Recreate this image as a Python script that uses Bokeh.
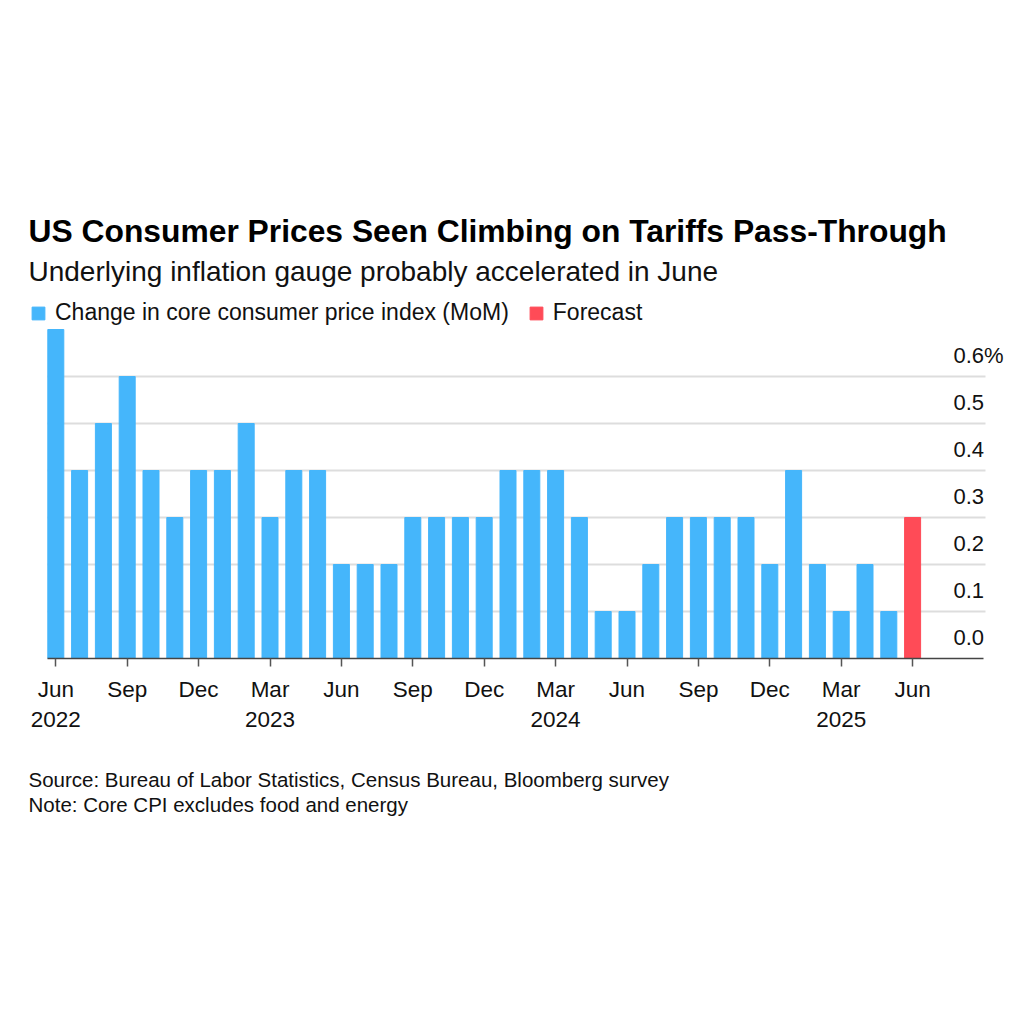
from bokeh.plotting import figure
from bokeh.models import (Range1d, FixedTicker, ColumnDataSource, Legend, LegendItem, Title)
from bokeh.core.properties import value
from bokeh.embed import file_html
from bokeh.resources import INLINE

# ---------------- data ----------------
months = ["Jun 2022", "Jul 2022", "Aug 2022", "Sep 2022", "Oct 2022", "Nov 2022", "Dec 2022",
          "Jan 2023", "Feb 2023", "Mar 2023", "Apr 2023", "May 2023", "Jun 2023", "Jul 2023",
          "Aug 2023", "Sep 2023", "Oct 2023", "Nov 2023", "Dec 2023", "Jan 2024", "Feb 2024",
          "Mar 2024", "Apr 2024", "May 2024", "Jun 2024", "Jul 2024", "Aug 2024", "Sep 2024",
          "Oct 2024", "Nov 2024", "Dec 2024", "Jan 2025", "Feb 2025", "Mar 2025", "Apr 2025",
          "May 2025"]
core_cpi_mom = [0.7, 0.4, 0.5, 0.6, 0.4, 0.3, 0.4,
                0.4, 0.5, 0.3, 0.4, 0.4, 0.2, 0.2,
                0.2, 0.3, 0.3, 0.3, 0.3, 0.4, 0.4,
                0.4, 0.3, 0.1, 0.1, 0.2, 0.3, 0.3,
                0.3, 0.3, 0.2, 0.4, 0.2, 0.1, 0.2,
                0.1]
forecast_month = ["Jun 2025"]
forecast_value = [0.3]

x_tick_labels = ["Jun\n2022", "Sep", "Dec", "Mar\n2023", "Jun", "Sep", "Dec",
                 "Mar\n2024", "Jun", "Sep", "Dec", "Mar\n2025", "Jun"]
y_ticks = [0.0, 0.1, 0.2, 0.3, 0.4, 0.5, 0.6]
y_tick_labels = ["0.0", "0.1", "0.2", "0.3", "0.4", "0.5", "0.6%"]

title = "US Consumer Prices Seen Climbing on Tariffs Pass-Through"
subtitle = "Underlying inflation gauge probably accelerated in June"
legend_labels = ["Change in core consumer price index (MoM)", "Forecast"]
footer = ["Source: Bureau of Labor Statistics, Census Bureau, Bloomberg survey",
          "Note: Core CPI excludes food and energy"]

BLUE = "#45B6FB"
RED = "#FF4B57"
FONT = "Liberation Sans"
INK = "#111111"

# ---------------- layout (pixel geometry of the page) ----------------
W, H = 1024, 1024
FB = 658                 # baseline of the bars (frame bottom)
PITCH = 23.8             # px between bar centres
FIRST = 55.3             # px centre of first bar
PX_PER_UNIT = 470.0      # px per 1.0 percentage point
X0 = -FIRST / PITCH
X1 = X0 + W / PITCH
Y0, Y1 = 0.0, FB / PX_PER_UNIT


def dx(px):
    return X0 + px / PITCH


def dy(py):
    return (FB - py) / PX_PER_UNIT


p = figure(width=W, height=H, output_backend="svg", toolbar_location=None,
           x_range=Range1d(X0, X1), y_range=Range1d(Y0, Y1),
           min_border_left=0, min_border_right=0, min_border_top=0,
           min_border_bottom=H - FB)
p.outline_line_color = None
p.background_fill_color = "white"
p.border_fill_color = "white"
p.yaxis.visible = False
p.xgrid.visible = False
p.ygrid.visible = False

# horizontal gridlines limited to the plotting area
grid_y = y_ticks[1:]
p.segment(x0=[dx(47)] * len(grid_y), x1=[dx(985)] * len(grid_y), y0=grid_y, y1=grid_y,
          line_color="#dddddd", line_width=2)

xi = list(range(len(months)))
src = ColumnDataSource(dict(x=xi, top=core_cpi_mom, m=months))
fsrc = ColumnDataSource(dict(x=[len(months) + i for i in range(len(forecast_month))],
                             top=forecast_value, m=forecast_month))
BAR_W = 16 / PITCH
r1 = p.vbar(x="x", top="top", width=BAR_W, bottom=0, source=src, color=BLUE)
r2 = p.vbar(x="x", top="top", width=BAR_W, bottom=0, source=fsrc, color=RED)

# x axis
n_all = len(months) + len(forecast_month)
tick_pos = list(range(0, n_all, 3))
ax = p.xaxis[0]
ax.ticker = FixedTicker(ticks=tick_pos)
ax.bounds = (dx(47), dx(983))
ax.major_label_overrides = {t: lab for t, lab in zip(tick_pos, x_tick_labels)}
ax.axis_line_color = "#444444"
ax.axis_line_width = 1.3
ax.major_tick_line_color = "#555555"
ax.major_tick_line_width = 1.5
ax.major_tick_in = 0
ax.major_tick_out = 8
ax.minor_tick_line_color = None
ax.major_label_text_font = FONT
ax.major_label_text_font_size = "22.5px"
ax.major_label_text_color = INK
ax.major_label_standoff = 10
ax.major_label_text_line_height = 1.2

# value labels, right side, sitting above their gridlines
lift = 21 / PX_PER_UNIT
p.text(x=[dx(953)] * len(y_ticks), y=[v + lift for v in y_ticks], text=y_tick_labels,
       text_font=value(FONT), text_font_size="22px", text_color=INK,
       text_align="left", text_baseline="middle")

# legend
legend = Legend(items=[LegendItem(label=legend_labels[0], renderers=[r1]),
                       LegendItem(label=legend_labels[1], renderers=[r2])],
                orientation="horizontal", location=(30, FB - 326),
                glyph_width=16, glyph_height=16, label_height=24, label_standoff=9,
                spacing=19, padding=0, margin=0, border_line_color=None,
                background_fill_alpha=0, label_text_font=FONT,
                label_text_font_size="23px", label_text_color=INK)
p.add_layout(legend, "center")

# title and subtitle
p.text(x=[dx(28)], y=[dy(230)], text=[title], text_font=value(FONT),
       text_font_style="bold", text_font_size="31.8px", text_color="#000000",
       text_align="left", text_baseline="middle")
p.text(x=[dx(28)], y=[dy(271)], text=[subtitle], text_font=value(FONT),
       text_font_size="28px", text_color=INK, text_align="left", text_baseline="middle")

# footer (two lines in one title block)
p.add_layout(Title(text="\n".join(footer), text_font=FONT, text_font_size="20.5px",
                   text_font_style="normal", text_color=INK, align="left",
                   text_line_height=1.07, offset=28, standoff=63), "below")

open("out.html", "w").write(file_html(p, INLINE))
